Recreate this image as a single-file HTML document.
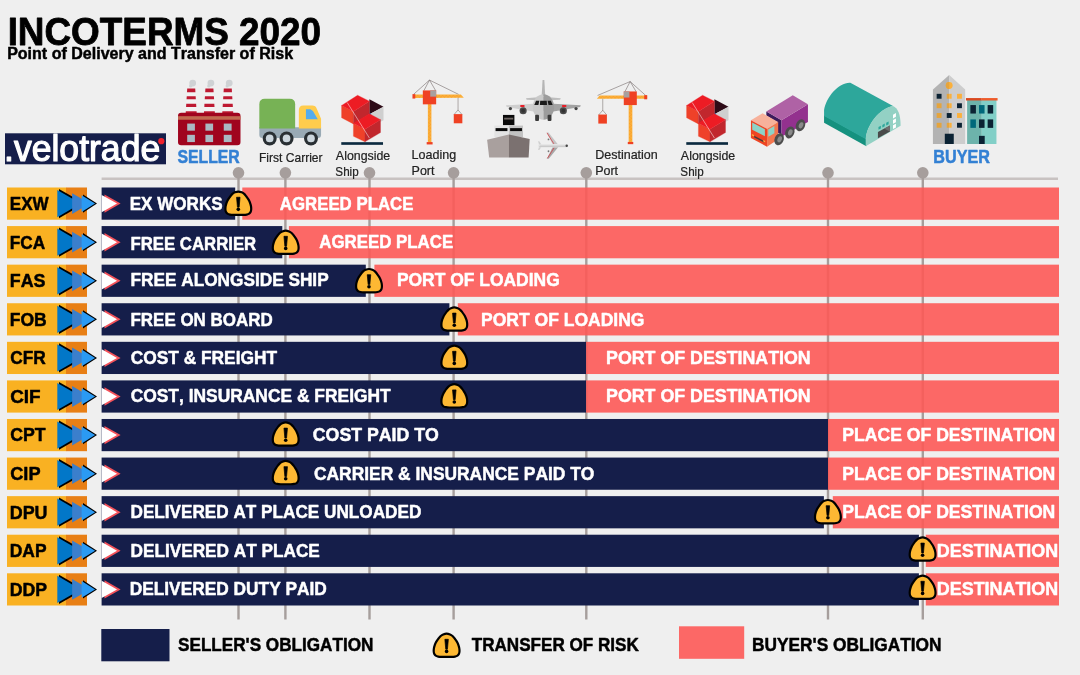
<!DOCTYPE html>
<html><head><meta charset="utf-8"><title>Incoterms 2020</title>
<style>
html,body{margin:0;padding:0;background:#EFEFEF;overflow:hidden;}
svg{display:block;font-family:"Liberation Sans",sans-serif;font-kerning:none;}
text{font-kerning:none;}
</style></head><body>
<svg width="1080" height="675" viewBox="0 0 1080 675">
<rect width="1080" height="675" fill="#EFEFEF"/>
<text x="7.63" y="44.70" font-size="38.6" font-weight="bold" fill="#000" textLength="313.48" lengthAdjust="spacingAndGlyphs" stroke="#000" stroke-width="0.8" stroke-linejoin="round" >INCOTERMS 2020</text>
<text x="7.15" y="59.20" font-size="15.8" font-weight="bold" fill="#000" textLength="285.91" lengthAdjust="spacingAndGlyphs" stroke="#000" stroke-width="0.45" stroke-linejoin="round" >Point of Delivery and Transfer of Risk</text>
<rect x="5" y="133.3" width="161" height="31" fill="#151E4A"/>
<text x="4.05" y="161.20" font-size="36.5" font-weight="normal" fill="#fff" textLength="156.13" lengthAdjust="spacingAndGlyphs" stroke="#fff" stroke-width="1.2" stroke-linejoin="round" >.velotrade</text>
<circle cx="161.3" cy="141.2" r="3.1" fill="#F0212B"/>
<rect x="101.6" y="177.5" width="956.4" height="2.5" fill="#C8C2C1"/>
<rect x="237.3" y="173" width="2.4" height="446.5" fill="#A69E9C"/>
<circle cx="238.5" cy="172.8" r="5.8" fill="#A69E9C"/>
<rect x="284.2" y="173" width="2.4" height="446.5" fill="#A69E9C"/>
<circle cx="285.4" cy="172.8" r="5.8" fill="#A69E9C"/>
<rect x="368.3" y="173" width="2.4" height="446.5" fill="#A69E9C"/>
<circle cx="369.5" cy="172.8" r="5.8" fill="#A69E9C"/>
<rect x="452.4" y="173" width="2.4" height="446.5" fill="#A69E9C"/>
<circle cx="453.6" cy="172.8" r="5.8" fill="#A69E9C"/>
<rect x="585.1" y="173" width="2.4" height="446.5" fill="#A69E9C"/>
<circle cx="586.3" cy="172.8" r="5.8" fill="#A69E9C"/>
<rect x="826.8" y="173" width="2.4" height="446.5" fill="#A69E9C"/>
<circle cx="828.0" cy="172.8" r="5.8" fill="#A69E9C"/>
<rect x="921.6" y="173" width="2.4" height="446.5" fill="#A69E9C"/>
<circle cx="922.8" cy="172.8" r="5.8" fill="#A69E9C"/>
<rect x="7" y="187.50" width="59.2" height="32.2" fill="#F9B122"/>
<rect x="66" y="187.50" width="21" height="32.2" fill="#E87F15"/>
<path d="M59.0,189.0 L84.5,203.6 L59.0,218.2 Z" fill="#000"/>
<path d="M57.3,190.0 L80.7,203.6 L57.3,217.2 Z" fill="#0277C8"/>
<path d="M72.1,193.2 L90.0,203.6 L72.1,214.0 Z" fill="#3B7FCC"/>
<path d="M83.0,194.5 L97.0,203.6 L83.0,212.7 Z" fill="#000"/>
<path d="M81.6,195.3 L95.1,203.6 L81.6,211.9 Z" fill="#2B9AF3"/>
<text x="9.81" y="210.00" font-size="18.9" font-weight="bold" fill="#000" textLength="38.86" lengthAdjust="spacingAndGlyphs" stroke="#000" stroke-width="0.5" stroke-linejoin="round" >EXW</text>
<rect x="101.6" y="187.50" width="133.6" height="32.2" fill="#151E4A"/>
<rect x="242.3" y="187.50" width="816.7" height="32.2" fill="#FD5957" fill-opacity="0.9"/>
<path d="M104.5,194.4 L120.6,203.6 L104.5,212.8 Z" fill="#F4525A"/>
<path d="M101.7,194.9 L117.0,203.6 L101.7,212.3 Z" fill="#fff"/>
<text x="129.71" y="209.90" font-size="18.9" font-weight="bold" fill="#fff" textLength="92.91" lengthAdjust="spacingAndGlyphs" stroke="#fff" stroke-width="0.5" stroke-linejoin="round" >EX WORKS</text>
<text x="279.83" y="209.90" font-size="18.9" font-weight="bold" fill="#fff" textLength="133.58" lengthAdjust="spacingAndGlyphs" stroke="#fff" stroke-width="0.5" stroke-linejoin="round" >AGREED PLACE</text>
<g transform="translate(238.30 203.25)"><path d="M0.00,-11.70 C1.13,-11.70 2.42,-11.30 3.40,-10.90 C4.38,-10.50 5.15,-9.95 5.90,-9.30 C6.65,-8.65 7.28,-7.78 7.90,-7.00 C8.52,-6.22 9.08,-5.40 9.60,-4.60 C10.12,-3.80 10.60,-3.02 11.00,-2.20 C11.40,-1.38 11.72,-0.57 12.00,0.30 C12.28,1.17 12.55,2.05 12.70,3.00 C12.85,3.95 12.95,5.08 12.90,6.00 C12.85,6.92 12.73,7.77 12.40,8.50 C12.07,9.23 11.57,9.93 10.90,10.40 C10.23,10.87 9.38,11.10 8.40,11.30 C7.42,11.50 6.40,11.55 5.00,11.60 C3.60,11.65 1.67,11.60 0.00,11.60 C-1.67,11.60 -3.60,11.65 -5.00,11.60 C-6.40,11.55 -7.42,11.50 -8.40,11.30 C-9.38,11.10 -10.23,10.87 -10.90,10.40 C-11.57,9.93 -12.07,9.23 -12.40,8.50 C-12.73,7.77 -12.85,6.92 -12.90,6.00 C-12.95,5.08 -12.85,3.95 -12.70,3.00 C-12.55,2.05 -12.28,1.17 -12.00,0.30 C-11.72,-0.57 -11.40,-1.38 -11.00,-2.20 C-10.60,-3.02 -10.12,-3.80 -9.60,-4.60 C-9.08,-5.40 -8.52,-6.22 -7.90,-7.00 C-7.28,-7.78 -6.65,-8.65 -5.90,-9.30 C-5.15,-9.95 -4.38,-10.50 -3.40,-10.90 C-2.42,-11.30 -1.13,-11.70 0.00,-11.70 Z" fill="#FDB833" stroke="#000" stroke-width="2.2" stroke-linejoin="round"/>
<path d="M-1.75,-6 L1.75,-6 L0.85,3.9 L-0.85,3.9 Z" fill="#000" stroke="#000" stroke-width="0.7" stroke-linejoin="round"/>
<circle cx="0" cy="6.1" r="1.8" fill="#000"/>
</g>
<rect x="7" y="226.08" width="59.2" height="32.2" fill="#F9B122"/>
<rect x="66" y="226.08" width="21" height="32.2" fill="#E87F15"/>
<path d="M59.0,227.6 L84.5,242.2 L59.0,256.8 Z" fill="#000"/>
<path d="M57.3,228.6 L80.7,242.2 L57.3,255.8 Z" fill="#0277C8"/>
<path d="M72.1,231.8 L90.0,242.2 L72.1,252.6 Z" fill="#3B7FCC"/>
<path d="M83.0,233.1 L97.0,242.2 L83.0,251.3 Z" fill="#000"/>
<path d="M81.6,233.9 L95.1,242.2 L81.6,250.5 Z" fill="#2B9AF3"/>
<text x="9.80" y="248.58" font-size="18.9" font-weight="bold" fill="#000" textLength="35.41" lengthAdjust="spacingAndGlyphs" stroke="#000" stroke-width="0.5" stroke-linejoin="round" >FCA</text>
<rect x="101.6" y="226.08" width="180.7" height="32.2" fill="#151E4A"/>
<rect x="288.9" y="226.08" width="770.1" height="32.2" fill="#FD5957" fill-opacity="0.9"/>
<path d="M104.5,233.0 L120.6,242.2 L104.5,251.4 Z" fill="#F4525A"/>
<path d="M101.7,233.5 L117.0,242.2 L101.7,250.9 Z" fill="#fff"/>
<text x="130.53" y="250.28" font-size="18.9" font-weight="bold" fill="#fff" textLength="125.66" lengthAdjust="spacingAndGlyphs" stroke="#fff" stroke-width="0.5" stroke-linejoin="round" >FREE CARRIER</text>
<text x="319.23" y="248.48" font-size="18.9" font-weight="bold" fill="#fff" textLength="133.98" lengthAdjust="spacingAndGlyphs" stroke="#fff" stroke-width="0.5" stroke-linejoin="round" >AGREED PLACE</text>
<g transform="translate(285.70 242.30)"><path d="M0.00,-11.70 C1.13,-11.70 2.42,-11.30 3.40,-10.90 C4.38,-10.50 5.15,-9.95 5.90,-9.30 C6.65,-8.65 7.28,-7.78 7.90,-7.00 C8.52,-6.22 9.08,-5.40 9.60,-4.60 C10.12,-3.80 10.60,-3.02 11.00,-2.20 C11.40,-1.38 11.72,-0.57 12.00,0.30 C12.28,1.17 12.55,2.05 12.70,3.00 C12.85,3.95 12.95,5.08 12.90,6.00 C12.85,6.92 12.73,7.77 12.40,8.50 C12.07,9.23 11.57,9.93 10.90,10.40 C10.23,10.87 9.38,11.10 8.40,11.30 C7.42,11.50 6.40,11.55 5.00,11.60 C3.60,11.65 1.67,11.60 0.00,11.60 C-1.67,11.60 -3.60,11.65 -5.00,11.60 C-6.40,11.55 -7.42,11.50 -8.40,11.30 C-9.38,11.10 -10.23,10.87 -10.90,10.40 C-11.57,9.93 -12.07,9.23 -12.40,8.50 C-12.73,7.77 -12.85,6.92 -12.90,6.00 C-12.95,5.08 -12.85,3.95 -12.70,3.00 C-12.55,2.05 -12.28,1.17 -12.00,0.30 C-11.72,-0.57 -11.40,-1.38 -11.00,-2.20 C-10.60,-3.02 -10.12,-3.80 -9.60,-4.60 C-9.08,-5.40 -8.52,-6.22 -7.90,-7.00 C-7.28,-7.78 -6.65,-8.65 -5.90,-9.30 C-5.15,-9.95 -4.38,-10.50 -3.40,-10.90 C-2.42,-11.30 -1.13,-11.70 0.00,-11.70 Z" fill="#FDB833" stroke="#000" stroke-width="2.2" stroke-linejoin="round"/>
<path d="M-1.75,-6 L1.75,-6 L0.85,3.9 L-0.85,3.9 Z" fill="#000" stroke="#000" stroke-width="0.7" stroke-linejoin="round"/>
<circle cx="0" cy="6.1" r="1.8" fill="#000"/>
</g>
<rect x="7" y="264.66" width="59.2" height="32.2" fill="#F9B122"/>
<rect x="66" y="264.66" width="21" height="32.2" fill="#E87F15"/>
<path d="M59.0,266.2 L84.5,280.8 L59.0,295.4 Z" fill="#000"/>
<path d="M57.3,267.2 L80.7,280.8 L57.3,294.4 Z" fill="#0277C8"/>
<path d="M72.1,270.4 L90.0,280.8 L72.1,291.2 Z" fill="#3B7FCC"/>
<path d="M83.0,271.7 L97.0,280.8 L83.0,289.9 Z" fill="#000"/>
<path d="M81.6,272.5 L95.1,280.8 L81.6,289.1 Z" fill="#2B9AF3"/>
<text x="9.76" y="287.16" font-size="18.9" font-weight="bold" fill="#000" textLength="35.69" lengthAdjust="spacingAndGlyphs" stroke="#000" stroke-width="0.5" stroke-linejoin="round" >FAS</text>
<rect x="101.6" y="264.66" width="264.2" height="32.2" fill="#151E4A"/>
<rect x="374.4" y="264.66" width="684.6" height="32.2" fill="#FD5957" fill-opacity="0.9"/>
<path d="M104.5,271.6 L120.6,280.8 L104.5,290.0 Z" fill="#F4525A"/>
<path d="M101.7,272.1 L117.0,280.8 L101.7,289.5 Z" fill="#fff"/>
<text x="130.50" y="286.46" font-size="18.9" font-weight="bold" fill="#fff" textLength="198.14" lengthAdjust="spacingAndGlyphs" stroke="#fff" stroke-width="0.5" stroke-linejoin="round" >FREE ALONGSIDE SHIP</text>
<text x="396.88" y="286.46" font-size="18.9" font-weight="bold" fill="#fff" textLength="162.85" lengthAdjust="spacingAndGlyphs" stroke="#fff" stroke-width="0.5" stroke-linejoin="round" >PORT OF LOADING</text>
<g transform="translate(369.00 280.70)"><path d="M0.00,-11.70 C1.13,-11.70 2.42,-11.30 3.40,-10.90 C4.38,-10.50 5.15,-9.95 5.90,-9.30 C6.65,-8.65 7.28,-7.78 7.90,-7.00 C8.52,-6.22 9.08,-5.40 9.60,-4.60 C10.12,-3.80 10.60,-3.02 11.00,-2.20 C11.40,-1.38 11.72,-0.57 12.00,0.30 C12.28,1.17 12.55,2.05 12.70,3.00 C12.85,3.95 12.95,5.08 12.90,6.00 C12.85,6.92 12.73,7.77 12.40,8.50 C12.07,9.23 11.57,9.93 10.90,10.40 C10.23,10.87 9.38,11.10 8.40,11.30 C7.42,11.50 6.40,11.55 5.00,11.60 C3.60,11.65 1.67,11.60 0.00,11.60 C-1.67,11.60 -3.60,11.65 -5.00,11.60 C-6.40,11.55 -7.42,11.50 -8.40,11.30 C-9.38,11.10 -10.23,10.87 -10.90,10.40 C-11.57,9.93 -12.07,9.23 -12.40,8.50 C-12.73,7.77 -12.85,6.92 -12.90,6.00 C-12.95,5.08 -12.85,3.95 -12.70,3.00 C-12.55,2.05 -12.28,1.17 -12.00,0.30 C-11.72,-0.57 -11.40,-1.38 -11.00,-2.20 C-10.60,-3.02 -10.12,-3.80 -9.60,-4.60 C-9.08,-5.40 -8.52,-6.22 -7.90,-7.00 C-7.28,-7.78 -6.65,-8.65 -5.90,-9.30 C-5.15,-9.95 -4.38,-10.50 -3.40,-10.90 C-2.42,-11.30 -1.13,-11.70 0.00,-11.70 Z" fill="#FDB833" stroke="#000" stroke-width="2.2" stroke-linejoin="round"/>
<path d="M-1.75,-6 L1.75,-6 L0.85,3.9 L-0.85,3.9 Z" fill="#000" stroke="#000" stroke-width="0.7" stroke-linejoin="round"/>
<circle cx="0" cy="6.1" r="1.8" fill="#000"/>
</g>
<rect x="7" y="303.24" width="59.2" height="32.2" fill="#F9B122"/>
<rect x="66" y="303.24" width="21" height="32.2" fill="#E87F15"/>
<path d="M59.0,304.7 L84.5,319.3 L59.0,333.9 Z" fill="#000"/>
<path d="M57.3,305.7 L80.7,319.3 L57.3,332.9 Z" fill="#0277C8"/>
<path d="M72.1,308.9 L90.0,319.3 L72.1,329.7 Z" fill="#3B7FCC"/>
<path d="M83.0,310.2 L97.0,319.3 L83.0,328.4 Z" fill="#000"/>
<path d="M81.6,311.0 L95.1,319.3 L81.6,327.6 Z" fill="#2B9AF3"/>
<text x="9.78" y="325.74" font-size="18.9" font-weight="bold" fill="#000" textLength="36.97" lengthAdjust="spacingAndGlyphs" stroke="#000" stroke-width="0.5" stroke-linejoin="round" >FOB</text>
<rect x="101.6" y="303.24" width="347.8" height="32.2" fill="#151E4A"/>
<rect x="457.8" y="303.24" width="601.2" height="32.2" fill="#FD5957" fill-opacity="0.9"/>
<path d="M104.5,310.1 L120.6,319.3 L104.5,328.5 Z" fill="#F4525A"/>
<path d="M101.7,310.6 L117.0,319.3 L101.7,328.0 Z" fill="#fff"/>
<text x="130.52" y="325.64" font-size="18.9" font-weight="bold" fill="#fff" textLength="142.14" lengthAdjust="spacingAndGlyphs" stroke="#fff" stroke-width="0.5" stroke-linejoin="round" >FREE ON BOARD</text>
<text x="481.08" y="325.64" font-size="18.9" font-weight="bold" fill="#fff" textLength="163.36" lengthAdjust="spacingAndGlyphs" stroke="#fff" stroke-width="0.5" stroke-linejoin="round" >PORT OF LOADING</text>
<g transform="translate(454.30 319.10)"><path d="M0.00,-11.70 C1.13,-11.70 2.42,-11.30 3.40,-10.90 C4.38,-10.50 5.15,-9.95 5.90,-9.30 C6.65,-8.65 7.28,-7.78 7.90,-7.00 C8.52,-6.22 9.08,-5.40 9.60,-4.60 C10.12,-3.80 10.60,-3.02 11.00,-2.20 C11.40,-1.38 11.72,-0.57 12.00,0.30 C12.28,1.17 12.55,2.05 12.70,3.00 C12.85,3.95 12.95,5.08 12.90,6.00 C12.85,6.92 12.73,7.77 12.40,8.50 C12.07,9.23 11.57,9.93 10.90,10.40 C10.23,10.87 9.38,11.10 8.40,11.30 C7.42,11.50 6.40,11.55 5.00,11.60 C3.60,11.65 1.67,11.60 0.00,11.60 C-1.67,11.60 -3.60,11.65 -5.00,11.60 C-6.40,11.55 -7.42,11.50 -8.40,11.30 C-9.38,11.10 -10.23,10.87 -10.90,10.40 C-11.57,9.93 -12.07,9.23 -12.40,8.50 C-12.73,7.77 -12.85,6.92 -12.90,6.00 C-12.95,5.08 -12.85,3.95 -12.70,3.00 C-12.55,2.05 -12.28,1.17 -12.00,0.30 C-11.72,-0.57 -11.40,-1.38 -11.00,-2.20 C-10.60,-3.02 -10.12,-3.80 -9.60,-4.60 C-9.08,-5.40 -8.52,-6.22 -7.90,-7.00 C-7.28,-7.78 -6.65,-8.65 -5.90,-9.30 C-5.15,-9.95 -4.38,-10.50 -3.40,-10.90 C-2.42,-11.30 -1.13,-11.70 0.00,-11.70 Z" fill="#FDB833" stroke="#000" stroke-width="2.2" stroke-linejoin="round"/>
<path d="M-1.75,-6 L1.75,-6 L0.85,3.9 L-0.85,3.9 Z" fill="#000" stroke="#000" stroke-width="0.7" stroke-linejoin="round"/>
<circle cx="0" cy="6.1" r="1.8" fill="#000"/>
</g>
<rect x="7" y="341.82" width="59.2" height="32.2" fill="#F9B122"/>
<rect x="66" y="341.82" width="21" height="32.2" fill="#E87F15"/>
<path d="M59.0,343.3 L84.5,357.9 L59.0,372.5 Z" fill="#000"/>
<path d="M57.3,344.3 L80.7,357.9 L57.3,371.5 Z" fill="#0277C8"/>
<path d="M72.1,347.5 L90.0,357.9 L72.1,368.3 Z" fill="#3B7FCC"/>
<path d="M83.0,348.8 L97.0,357.9 L83.0,367.0 Z" fill="#000"/>
<path d="M81.6,349.6 L95.1,357.9 L81.6,366.2 Z" fill="#2B9AF3"/>
<text x="10.24" y="364.32" font-size="18.9" font-weight="bold" fill="#000" textLength="35.56" lengthAdjust="spacingAndGlyphs" stroke="#000" stroke-width="0.5" stroke-linejoin="round" >CFR</text>
<rect x="101.6" y="341.82" width="484.5" height="32.2" fill="#151E4A"/>
<rect x="586.1" y="341.82" width="472.9" height="32.2" fill="#FD5957" fill-opacity="0.9"/>
<path d="M104.5,348.7 L120.6,357.9 L104.5,367.1 Z" fill="#F4525A"/>
<path d="M101.7,349.2 L117.0,357.9 L101.7,366.6 Z" fill="#fff"/>
<text x="130.64" y="363.92" font-size="18.9" font-weight="bold" fill="#fff" textLength="146.50" lengthAdjust="spacingAndGlyphs" stroke="#fff" stroke-width="0.5" stroke-linejoin="round" >COST &amp; FREIGHT</text>
<text x="606.06" y="363.92" font-size="18.9" font-weight="bold" fill="#fff" textLength="204.59" lengthAdjust="spacingAndGlyphs" stroke="#fff" stroke-width="0.5" stroke-linejoin="round" >PORT OF DESTINATION</text>
<g transform="translate(454.30 357.30)"><path d="M0.00,-11.70 C1.13,-11.70 2.42,-11.30 3.40,-10.90 C4.38,-10.50 5.15,-9.95 5.90,-9.30 C6.65,-8.65 7.28,-7.78 7.90,-7.00 C8.52,-6.22 9.08,-5.40 9.60,-4.60 C10.12,-3.80 10.60,-3.02 11.00,-2.20 C11.40,-1.38 11.72,-0.57 12.00,0.30 C12.28,1.17 12.55,2.05 12.70,3.00 C12.85,3.95 12.95,5.08 12.90,6.00 C12.85,6.92 12.73,7.77 12.40,8.50 C12.07,9.23 11.57,9.93 10.90,10.40 C10.23,10.87 9.38,11.10 8.40,11.30 C7.42,11.50 6.40,11.55 5.00,11.60 C3.60,11.65 1.67,11.60 0.00,11.60 C-1.67,11.60 -3.60,11.65 -5.00,11.60 C-6.40,11.55 -7.42,11.50 -8.40,11.30 C-9.38,11.10 -10.23,10.87 -10.90,10.40 C-11.57,9.93 -12.07,9.23 -12.40,8.50 C-12.73,7.77 -12.85,6.92 -12.90,6.00 C-12.95,5.08 -12.85,3.95 -12.70,3.00 C-12.55,2.05 -12.28,1.17 -12.00,0.30 C-11.72,-0.57 -11.40,-1.38 -11.00,-2.20 C-10.60,-3.02 -10.12,-3.80 -9.60,-4.60 C-9.08,-5.40 -8.52,-6.22 -7.90,-7.00 C-7.28,-7.78 -6.65,-8.65 -5.90,-9.30 C-5.15,-9.95 -4.38,-10.50 -3.40,-10.90 C-2.42,-11.30 -1.13,-11.70 0.00,-11.70 Z" fill="#FDB833" stroke="#000" stroke-width="2.2" stroke-linejoin="round"/>
<path d="M-1.75,-6 L1.75,-6 L0.85,3.9 L-0.85,3.9 Z" fill="#000" stroke="#000" stroke-width="0.7" stroke-linejoin="round"/>
<circle cx="0" cy="6.1" r="1.8" fill="#000"/>
</g>
<rect x="7" y="380.40" width="59.2" height="32.2" fill="#F9B122"/>
<rect x="66" y="380.40" width="21" height="32.2" fill="#E87F15"/>
<path d="M59.0,381.9 L84.5,396.5 L59.0,411.1 Z" fill="#000"/>
<path d="M57.3,382.9 L80.7,396.5 L57.3,410.1 Z" fill="#0277C8"/>
<path d="M72.1,386.1 L90.0,396.5 L72.1,406.9 Z" fill="#3B7FCC"/>
<path d="M83.0,387.4 L97.0,396.5 L83.0,405.6 Z" fill="#000"/>
<path d="M81.6,388.2 L95.1,396.5 L81.6,404.8 Z" fill="#2B9AF3"/>
<text x="10.17" y="402.90" font-size="18.9" font-weight="bold" fill="#000" textLength="30.47" lengthAdjust="spacingAndGlyphs" stroke="#000" stroke-width="0.5" stroke-linejoin="round" >CIF</text>
<rect x="101.6" y="380.40" width="484.5" height="32.2" fill="#151E4A"/>
<rect x="586.1" y="380.40" width="472.9" height="32.2" fill="#FD5957" fill-opacity="0.9"/>
<path d="M104.5,387.3 L120.6,396.5 L104.5,405.7 Z" fill="#F4525A"/>
<path d="M101.7,387.8 L117.0,396.5 L101.7,405.2 Z" fill="#fff"/>
<text x="130.64" y="402.20" font-size="18.9" font-weight="bold" fill="#fff" textLength="260.10" lengthAdjust="spacingAndGlyphs" stroke="#fff" stroke-width="0.5" stroke-linejoin="round" >COST, INSURANCE &amp; FREIGHT</text>
<text x="606.06" y="402.20" font-size="18.9" font-weight="bold" fill="#fff" textLength="204.59" lengthAdjust="spacingAndGlyphs" stroke="#fff" stroke-width="0.5" stroke-linejoin="round" >PORT OF DESTINATION</text>
<g transform="translate(454.30 395.90)"><path d="M0.00,-11.70 C1.13,-11.70 2.42,-11.30 3.40,-10.90 C4.38,-10.50 5.15,-9.95 5.90,-9.30 C6.65,-8.65 7.28,-7.78 7.90,-7.00 C8.52,-6.22 9.08,-5.40 9.60,-4.60 C10.12,-3.80 10.60,-3.02 11.00,-2.20 C11.40,-1.38 11.72,-0.57 12.00,0.30 C12.28,1.17 12.55,2.05 12.70,3.00 C12.85,3.95 12.95,5.08 12.90,6.00 C12.85,6.92 12.73,7.77 12.40,8.50 C12.07,9.23 11.57,9.93 10.90,10.40 C10.23,10.87 9.38,11.10 8.40,11.30 C7.42,11.50 6.40,11.55 5.00,11.60 C3.60,11.65 1.67,11.60 0.00,11.60 C-1.67,11.60 -3.60,11.65 -5.00,11.60 C-6.40,11.55 -7.42,11.50 -8.40,11.30 C-9.38,11.10 -10.23,10.87 -10.90,10.40 C-11.57,9.93 -12.07,9.23 -12.40,8.50 C-12.73,7.77 -12.85,6.92 -12.90,6.00 C-12.95,5.08 -12.85,3.95 -12.70,3.00 C-12.55,2.05 -12.28,1.17 -12.00,0.30 C-11.72,-0.57 -11.40,-1.38 -11.00,-2.20 C-10.60,-3.02 -10.12,-3.80 -9.60,-4.60 C-9.08,-5.40 -8.52,-6.22 -7.90,-7.00 C-7.28,-7.78 -6.65,-8.65 -5.90,-9.30 C-5.15,-9.95 -4.38,-10.50 -3.40,-10.90 C-2.42,-11.30 -1.13,-11.70 0.00,-11.70 Z" fill="#FDB833" stroke="#000" stroke-width="2.2" stroke-linejoin="round"/>
<path d="M-1.75,-6 L1.75,-6 L0.85,3.9 L-0.85,3.9 Z" fill="#000" stroke="#000" stroke-width="0.7" stroke-linejoin="round"/>
<circle cx="0" cy="6.1" r="1.8" fill="#000"/>
</g>
<rect x="7" y="418.98" width="59.2" height="32.2" fill="#F9B122"/>
<rect x="66" y="418.98" width="21" height="32.2" fill="#E87F15"/>
<path d="M59.0,420.5 L84.5,435.1 L59.0,449.7 Z" fill="#000"/>
<path d="M57.3,421.5 L80.7,435.1 L57.3,448.7 Z" fill="#0277C8"/>
<path d="M72.1,424.7 L90.0,435.1 L72.1,445.5 Z" fill="#3B7FCC"/>
<path d="M83.0,426.0 L97.0,435.1 L83.0,444.2 Z" fill="#000"/>
<path d="M81.6,426.8 L95.1,435.1 L81.6,443.4 Z" fill="#2B9AF3"/>
<text x="10.22" y="441.48" font-size="18.9" font-weight="bold" fill="#000" textLength="35.42" lengthAdjust="spacingAndGlyphs" stroke="#000" stroke-width="0.5" stroke-linejoin="round" >CPT</text>
<rect x="101.6" y="418.98" width="726.4" height="32.2" fill="#151E4A"/>
<rect x="828" y="418.98" width="231.0" height="32.2" fill="#FD5957" fill-opacity="0.9"/>
<path d="M104.5,425.9 L120.6,435.1 L104.5,444.3 Z" fill="#F4525A"/>
<path d="M101.7,426.4 L117.0,435.1 L101.7,443.8 Z" fill="#fff"/>
<text x="312.82" y="441.08" font-size="18.9" font-weight="bold" fill="#fff" textLength="125.97" lengthAdjust="spacingAndGlyphs" stroke="#fff" stroke-width="0.5" stroke-linejoin="round" >COST PAID TO</text>
<text x="842.37" y="441.08" font-size="18.9" font-weight="bold" fill="#fff" textLength="212.96" lengthAdjust="spacingAndGlyphs" stroke="#fff" stroke-width="0.5" stroke-linejoin="round" >PLACE OF DESTINATION</text>
<g transform="translate(285.70 434.10)"><path d="M0.00,-11.70 C1.13,-11.70 2.42,-11.30 3.40,-10.90 C4.38,-10.50 5.15,-9.95 5.90,-9.30 C6.65,-8.65 7.28,-7.78 7.90,-7.00 C8.52,-6.22 9.08,-5.40 9.60,-4.60 C10.12,-3.80 10.60,-3.02 11.00,-2.20 C11.40,-1.38 11.72,-0.57 12.00,0.30 C12.28,1.17 12.55,2.05 12.70,3.00 C12.85,3.95 12.95,5.08 12.90,6.00 C12.85,6.92 12.73,7.77 12.40,8.50 C12.07,9.23 11.57,9.93 10.90,10.40 C10.23,10.87 9.38,11.10 8.40,11.30 C7.42,11.50 6.40,11.55 5.00,11.60 C3.60,11.65 1.67,11.60 0.00,11.60 C-1.67,11.60 -3.60,11.65 -5.00,11.60 C-6.40,11.55 -7.42,11.50 -8.40,11.30 C-9.38,11.10 -10.23,10.87 -10.90,10.40 C-11.57,9.93 -12.07,9.23 -12.40,8.50 C-12.73,7.77 -12.85,6.92 -12.90,6.00 C-12.95,5.08 -12.85,3.95 -12.70,3.00 C-12.55,2.05 -12.28,1.17 -12.00,0.30 C-11.72,-0.57 -11.40,-1.38 -11.00,-2.20 C-10.60,-3.02 -10.12,-3.80 -9.60,-4.60 C-9.08,-5.40 -8.52,-6.22 -7.90,-7.00 C-7.28,-7.78 -6.65,-8.65 -5.90,-9.30 C-5.15,-9.95 -4.38,-10.50 -3.40,-10.90 C-2.42,-11.30 -1.13,-11.70 0.00,-11.70 Z" fill="#FDB833" stroke="#000" stroke-width="2.2" stroke-linejoin="round"/>
<path d="M-1.75,-6 L1.75,-6 L0.85,3.9 L-0.85,3.9 Z" fill="#000" stroke="#000" stroke-width="0.7" stroke-linejoin="round"/>
<circle cx="0" cy="6.1" r="1.8" fill="#000"/>
</g>
<rect x="7" y="457.56" width="59.2" height="32.2" fill="#F9B122"/>
<rect x="66" y="457.56" width="21" height="32.2" fill="#E87F15"/>
<path d="M59.0,459.1 L84.5,473.7 L59.0,488.3 Z" fill="#000"/>
<path d="M57.3,460.1 L80.7,473.7 L57.3,487.3 Z" fill="#0277C8"/>
<path d="M72.1,463.3 L90.0,473.7 L72.1,484.1 Z" fill="#3B7FCC"/>
<path d="M83.0,464.6 L97.0,473.7 L83.0,482.8 Z" fill="#000"/>
<path d="M81.6,465.4 L95.1,473.7 L81.6,482.0 Z" fill="#2B9AF3"/>
<text x="10.20" y="480.06" font-size="18.9" font-weight="bold" fill="#000" textLength="30.37" lengthAdjust="spacingAndGlyphs" stroke="#000" stroke-width="0.5" stroke-linejoin="round" >CIP</text>
<rect x="101.6" y="457.56" width="726.4" height="32.2" fill="#151E4A"/>
<rect x="828" y="457.56" width="231.0" height="32.2" fill="#FD5957" fill-opacity="0.9"/>
<path d="M104.5,464.5 L120.6,473.7 L104.5,482.9 Z" fill="#F4525A"/>
<path d="M101.7,465.0 L117.0,473.7 L101.7,482.4 Z" fill="#fff"/>
<text x="313.94" y="479.66" font-size="18.9" font-weight="bold" fill="#fff" textLength="280.44" lengthAdjust="spacingAndGlyphs" stroke="#fff" stroke-width="0.5" stroke-linejoin="round" >CARRIER &amp; INSURANCE PAID TO</text>
<text x="842.37" y="480.26" font-size="18.9" font-weight="bold" fill="#fff" textLength="212.96" lengthAdjust="spacingAndGlyphs" stroke="#fff" stroke-width="0.5" stroke-linejoin="round" >PLACE OF DESTINATION</text>
<g transform="translate(285.70 472.65)"><path d="M0.00,-11.70 C1.13,-11.70 2.42,-11.30 3.40,-10.90 C4.38,-10.50 5.15,-9.95 5.90,-9.30 C6.65,-8.65 7.28,-7.78 7.90,-7.00 C8.52,-6.22 9.08,-5.40 9.60,-4.60 C10.12,-3.80 10.60,-3.02 11.00,-2.20 C11.40,-1.38 11.72,-0.57 12.00,0.30 C12.28,1.17 12.55,2.05 12.70,3.00 C12.85,3.95 12.95,5.08 12.90,6.00 C12.85,6.92 12.73,7.77 12.40,8.50 C12.07,9.23 11.57,9.93 10.90,10.40 C10.23,10.87 9.38,11.10 8.40,11.30 C7.42,11.50 6.40,11.55 5.00,11.60 C3.60,11.65 1.67,11.60 0.00,11.60 C-1.67,11.60 -3.60,11.65 -5.00,11.60 C-6.40,11.55 -7.42,11.50 -8.40,11.30 C-9.38,11.10 -10.23,10.87 -10.90,10.40 C-11.57,9.93 -12.07,9.23 -12.40,8.50 C-12.73,7.77 -12.85,6.92 -12.90,6.00 C-12.95,5.08 -12.85,3.95 -12.70,3.00 C-12.55,2.05 -12.28,1.17 -12.00,0.30 C-11.72,-0.57 -11.40,-1.38 -11.00,-2.20 C-10.60,-3.02 -10.12,-3.80 -9.60,-4.60 C-9.08,-5.40 -8.52,-6.22 -7.90,-7.00 C-7.28,-7.78 -6.65,-8.65 -5.90,-9.30 C-5.15,-9.95 -4.38,-10.50 -3.40,-10.90 C-2.42,-11.30 -1.13,-11.70 0.00,-11.70 Z" fill="#FDB833" stroke="#000" stroke-width="2.2" stroke-linejoin="round"/>
<path d="M-1.75,-6 L1.75,-6 L0.85,3.9 L-0.85,3.9 Z" fill="#000" stroke="#000" stroke-width="0.7" stroke-linejoin="round"/>
<circle cx="0" cy="6.1" r="1.8" fill="#000"/>
</g>
<rect x="7" y="496.14" width="59.2" height="32.2" fill="#F9B122"/>
<rect x="66" y="496.14" width="21" height="32.2" fill="#E87F15"/>
<path d="M59.0,497.6 L84.5,512.2 L59.0,526.8 Z" fill="#000"/>
<path d="M57.3,498.6 L80.7,512.2 L57.3,525.8 Z" fill="#0277C8"/>
<path d="M72.1,501.8 L90.0,512.2 L72.1,522.6 Z" fill="#3B7FCC"/>
<path d="M83.0,503.1 L97.0,512.2 L83.0,521.3 Z" fill="#000"/>
<path d="M81.6,503.9 L95.1,512.2 L81.6,520.5 Z" fill="#2B9AF3"/>
<text x="9.75" y="518.64" font-size="18.9" font-weight="bold" fill="#000" textLength="37.79" lengthAdjust="spacingAndGlyphs" stroke="#000" stroke-width="0.5" stroke-linejoin="round" >DPU</text>
<rect x="101.6" y="496.14" width="722.3" height="32.2" fill="#151E4A"/>
<rect x="832.8" y="496.14" width="226.2" height="32.2" fill="#FD5957" fill-opacity="0.9"/>
<path d="M104.5,503.0 L120.6,512.2 L104.5,521.4 Z" fill="#F4525A"/>
<path d="M101.7,503.5 L117.0,512.2 L101.7,520.9 Z" fill="#fff"/>
<text x="130.50" y="517.74" font-size="18.9" font-weight="bold" fill="#fff" textLength="290.77" lengthAdjust="spacingAndGlyphs" stroke="#fff" stroke-width="0.5" stroke-linejoin="round" >DELIVERED AT PLACE UNLOADED</text>
<text x="842.37" y="517.74" font-size="18.9" font-weight="bold" fill="#fff" textLength="212.96" lengthAdjust="spacingAndGlyphs" stroke="#fff" stroke-width="0.5" stroke-linejoin="round" >PLACE OF DESTINATION</text>
<g transform="translate(827.90 511.70)"><path d="M0.00,-11.70 C1.13,-11.70 2.42,-11.30 3.40,-10.90 C4.38,-10.50 5.15,-9.95 5.90,-9.30 C6.65,-8.65 7.28,-7.78 7.90,-7.00 C8.52,-6.22 9.08,-5.40 9.60,-4.60 C10.12,-3.80 10.60,-3.02 11.00,-2.20 C11.40,-1.38 11.72,-0.57 12.00,0.30 C12.28,1.17 12.55,2.05 12.70,3.00 C12.85,3.95 12.95,5.08 12.90,6.00 C12.85,6.92 12.73,7.77 12.40,8.50 C12.07,9.23 11.57,9.93 10.90,10.40 C10.23,10.87 9.38,11.10 8.40,11.30 C7.42,11.50 6.40,11.55 5.00,11.60 C3.60,11.65 1.67,11.60 0.00,11.60 C-1.67,11.60 -3.60,11.65 -5.00,11.60 C-6.40,11.55 -7.42,11.50 -8.40,11.30 C-9.38,11.10 -10.23,10.87 -10.90,10.40 C-11.57,9.93 -12.07,9.23 -12.40,8.50 C-12.73,7.77 -12.85,6.92 -12.90,6.00 C-12.95,5.08 -12.85,3.95 -12.70,3.00 C-12.55,2.05 -12.28,1.17 -12.00,0.30 C-11.72,-0.57 -11.40,-1.38 -11.00,-2.20 C-10.60,-3.02 -10.12,-3.80 -9.60,-4.60 C-9.08,-5.40 -8.52,-6.22 -7.90,-7.00 C-7.28,-7.78 -6.65,-8.65 -5.90,-9.30 C-5.15,-9.95 -4.38,-10.50 -3.40,-10.90 C-2.42,-11.30 -1.13,-11.70 0.00,-11.70 Z" fill="#FDB833" stroke="#000" stroke-width="2.2" stroke-linejoin="round"/>
<path d="M-1.75,-6 L1.75,-6 L0.85,3.9 L-0.85,3.9 Z" fill="#000" stroke="#000" stroke-width="0.7" stroke-linejoin="round"/>
<circle cx="0" cy="6.1" r="1.8" fill="#000"/>
</g>
<rect x="7" y="534.72" width="59.2" height="32.2" fill="#F9B122"/>
<rect x="66" y="534.72" width="21" height="32.2" fill="#E87F15"/>
<path d="M59.0,536.2 L84.5,550.8 L59.0,565.4 Z" fill="#000"/>
<path d="M57.3,537.2 L80.7,550.8 L57.3,564.4 Z" fill="#0277C8"/>
<path d="M72.1,540.4 L90.0,550.8 L72.1,561.2 Z" fill="#3B7FCC"/>
<path d="M83.0,541.7 L97.0,550.8 L83.0,559.9 Z" fill="#000"/>
<path d="M81.6,542.5 L95.1,550.8 L81.6,559.1 Z" fill="#2B9AF3"/>
<text x="9.79" y="557.22" font-size="18.9" font-weight="bold" fill="#000" textLength="36.76" lengthAdjust="spacingAndGlyphs" stroke="#000" stroke-width="0.5" stroke-linejoin="round" >DAP</text>
<rect x="101.6" y="534.72" width="817.3" height="32.2" fill="#151E4A"/>
<rect x="925.8" y="534.72" width="133.2" height="32.2" fill="#FD5957" fill-opacity="0.9"/>
<path d="M104.5,541.6 L120.6,550.8 L104.5,560.0 Z" fill="#F4525A"/>
<path d="M101.7,542.1 L117.0,550.8 L101.7,559.5 Z" fill="#fff"/>
<text x="130.50" y="556.62" font-size="18.9" font-weight="bold" fill="#fff" textLength="189.32" lengthAdjust="spacingAndGlyphs" stroke="#fff" stroke-width="0.5" stroke-linejoin="round" >DELIVERED AT PLACE</text>
<text x="936.85" y="557.12" font-size="18.9" font-weight="bold" fill="#fff" textLength="121.30" lengthAdjust="spacingAndGlyphs" stroke="#fff" stroke-width="0.5" stroke-linejoin="round" >DESTINATION</text>
<g transform="translate(922.60 549.10)"><path d="M0.00,-11.70 C1.13,-11.70 2.42,-11.30 3.40,-10.90 C4.38,-10.50 5.15,-9.95 5.90,-9.30 C6.65,-8.65 7.28,-7.78 7.90,-7.00 C8.52,-6.22 9.08,-5.40 9.60,-4.60 C10.12,-3.80 10.60,-3.02 11.00,-2.20 C11.40,-1.38 11.72,-0.57 12.00,0.30 C12.28,1.17 12.55,2.05 12.70,3.00 C12.85,3.95 12.95,5.08 12.90,6.00 C12.85,6.92 12.73,7.77 12.40,8.50 C12.07,9.23 11.57,9.93 10.90,10.40 C10.23,10.87 9.38,11.10 8.40,11.30 C7.42,11.50 6.40,11.55 5.00,11.60 C3.60,11.65 1.67,11.60 0.00,11.60 C-1.67,11.60 -3.60,11.65 -5.00,11.60 C-6.40,11.55 -7.42,11.50 -8.40,11.30 C-9.38,11.10 -10.23,10.87 -10.90,10.40 C-11.57,9.93 -12.07,9.23 -12.40,8.50 C-12.73,7.77 -12.85,6.92 -12.90,6.00 C-12.95,5.08 -12.85,3.95 -12.70,3.00 C-12.55,2.05 -12.28,1.17 -12.00,0.30 C-11.72,-0.57 -11.40,-1.38 -11.00,-2.20 C-10.60,-3.02 -10.12,-3.80 -9.60,-4.60 C-9.08,-5.40 -8.52,-6.22 -7.90,-7.00 C-7.28,-7.78 -6.65,-8.65 -5.90,-9.30 C-5.15,-9.95 -4.38,-10.50 -3.40,-10.90 C-2.42,-11.30 -1.13,-11.70 0.00,-11.70 Z" fill="#FDB833" stroke="#000" stroke-width="2.2" stroke-linejoin="round"/>
<path d="M-1.75,-6 L1.75,-6 L0.85,3.9 L-0.85,3.9 Z" fill="#000" stroke="#000" stroke-width="0.7" stroke-linejoin="round"/>
<circle cx="0" cy="6.1" r="1.8" fill="#000"/>
</g>
<rect x="7" y="573.30" width="59.2" height="32.2" fill="#F9B122"/>
<rect x="66" y="573.30" width="21" height="32.2" fill="#E87F15"/>
<path d="M59.0,574.8 L84.5,589.4 L59.0,604.0 Z" fill="#000"/>
<path d="M57.3,575.8 L80.7,589.4 L57.3,603.0 Z" fill="#0277C8"/>
<path d="M72.1,579.0 L90.0,589.4 L72.1,599.8 Z" fill="#3B7FCC"/>
<path d="M83.0,580.3 L97.0,589.4 L83.0,598.5 Z" fill="#000"/>
<path d="M81.6,581.1 L95.1,589.4 L81.6,597.7 Z" fill="#2B9AF3"/>
<text x="9.77" y="595.80" font-size="18.9" font-weight="bold" fill="#000" textLength="37.28" lengthAdjust="spacingAndGlyphs" stroke="#000" stroke-width="0.5" stroke-linejoin="round" >DDP</text>
<rect x="101.6" y="573.30" width="817.3" height="32.2" fill="#151E4A"/>
<rect x="925.8" y="573.30" width="133.2" height="32.2" fill="#FD5957" fill-opacity="0.9"/>
<path d="M104.5,580.2 L120.6,589.4 L104.5,598.6 Z" fill="#F4525A"/>
<path d="M101.7,580.7 L117.0,589.4 L101.7,598.1 Z" fill="#fff"/>
<text x="129.69" y="594.90" font-size="18.9" font-weight="bold" fill="#fff" textLength="197.19" lengthAdjust="spacingAndGlyphs" stroke="#fff" stroke-width="0.5" stroke-linejoin="round" >DELIVERED DUTY PAID</text>
<text x="936.85" y="595.40" font-size="18.9" font-weight="bold" fill="#fff" textLength="121.30" lengthAdjust="spacingAndGlyphs" stroke="#fff" stroke-width="0.5" stroke-linejoin="round" >DESTINATION</text>
<g transform="translate(922.60 587.30)"><path d="M0.00,-11.70 C1.13,-11.70 2.42,-11.30 3.40,-10.90 C4.38,-10.50 5.15,-9.95 5.90,-9.30 C6.65,-8.65 7.28,-7.78 7.90,-7.00 C8.52,-6.22 9.08,-5.40 9.60,-4.60 C10.12,-3.80 10.60,-3.02 11.00,-2.20 C11.40,-1.38 11.72,-0.57 12.00,0.30 C12.28,1.17 12.55,2.05 12.70,3.00 C12.85,3.95 12.95,5.08 12.90,6.00 C12.85,6.92 12.73,7.77 12.40,8.50 C12.07,9.23 11.57,9.93 10.90,10.40 C10.23,10.87 9.38,11.10 8.40,11.30 C7.42,11.50 6.40,11.55 5.00,11.60 C3.60,11.65 1.67,11.60 0.00,11.60 C-1.67,11.60 -3.60,11.65 -5.00,11.60 C-6.40,11.55 -7.42,11.50 -8.40,11.30 C-9.38,11.10 -10.23,10.87 -10.90,10.40 C-11.57,9.93 -12.07,9.23 -12.40,8.50 C-12.73,7.77 -12.85,6.92 -12.90,6.00 C-12.95,5.08 -12.85,3.95 -12.70,3.00 C-12.55,2.05 -12.28,1.17 -12.00,0.30 C-11.72,-0.57 -11.40,-1.38 -11.00,-2.20 C-10.60,-3.02 -10.12,-3.80 -9.60,-4.60 C-9.08,-5.40 -8.52,-6.22 -7.90,-7.00 C-7.28,-7.78 -6.65,-8.65 -5.90,-9.30 C-5.15,-9.95 -4.38,-10.50 -3.40,-10.90 C-2.42,-11.30 -1.13,-11.70 0.00,-11.70 Z" fill="#FDB833" stroke="#000" stroke-width="2.2" stroke-linejoin="round"/>
<path d="M-1.75,-6 L1.75,-6 L0.85,3.9 L-0.85,3.9 Z" fill="#000" stroke="#000" stroke-width="0.7" stroke-linejoin="round"/>
<circle cx="0" cy="6.1" r="1.8" fill="#000"/>
</g>
<rect x="101.3" y="629" width="68.2" height="32.3" fill="#151E4A"/>
<text x="178.06" y="651.10" font-size="18.9" font-weight="bold" fill="#000" textLength="195.35" lengthAdjust="spacingAndGlyphs" stroke="#000" stroke-width="0.5" stroke-linejoin="round" >SELLER'S OBLIGATION</text>
<g transform="translate(446.60 645.30)"><path d="M0.00,-11.70 C1.13,-11.70 2.42,-11.30 3.40,-10.90 C4.38,-10.50 5.15,-9.95 5.90,-9.30 C6.65,-8.65 7.28,-7.78 7.90,-7.00 C8.52,-6.22 9.08,-5.40 9.60,-4.60 C10.12,-3.80 10.60,-3.02 11.00,-2.20 C11.40,-1.38 11.72,-0.57 12.00,0.30 C12.28,1.17 12.55,2.05 12.70,3.00 C12.85,3.95 12.95,5.08 12.90,6.00 C12.85,6.92 12.73,7.77 12.40,8.50 C12.07,9.23 11.57,9.93 10.90,10.40 C10.23,10.87 9.38,11.10 8.40,11.30 C7.42,11.50 6.40,11.55 5.00,11.60 C3.60,11.65 1.67,11.60 0.00,11.60 C-1.67,11.60 -3.60,11.65 -5.00,11.60 C-6.40,11.55 -7.42,11.50 -8.40,11.30 C-9.38,11.10 -10.23,10.87 -10.90,10.40 C-11.57,9.93 -12.07,9.23 -12.40,8.50 C-12.73,7.77 -12.85,6.92 -12.90,6.00 C-12.95,5.08 -12.85,3.95 -12.70,3.00 C-12.55,2.05 -12.28,1.17 -12.00,0.30 C-11.72,-0.57 -11.40,-1.38 -11.00,-2.20 C-10.60,-3.02 -10.12,-3.80 -9.60,-4.60 C-9.08,-5.40 -8.52,-6.22 -7.90,-7.00 C-7.28,-7.78 -6.65,-8.65 -5.90,-9.30 C-5.15,-9.95 -4.38,-10.50 -3.40,-10.90 C-2.42,-11.30 -1.13,-11.70 0.00,-11.70 Z" fill="#FDB833" stroke="#000" stroke-width="2.2" stroke-linejoin="round"/>
<path d="M-1.75,-6 L1.75,-6 L0.85,3.9 L-0.85,3.9 Z" fill="#000" stroke="#000" stroke-width="0.7" stroke-linejoin="round"/>
<circle cx="0" cy="6.1" r="1.8" fill="#000"/>
</g>
<text x="471.76" y="651.10" font-size="18.9" font-weight="bold" fill="#000" textLength="167.05" lengthAdjust="spacingAndGlyphs" stroke="#000" stroke-width="0.5" stroke-linejoin="round" >TRANSFER OF RISK</text>
<rect x="679" y="626.3" width="65.2" height="32.5" fill="#FC6866"/>
<text x="752.09" y="651.10" font-size="18.9" font-weight="bold" fill="#000" textLength="189.42" lengthAdjust="spacingAndGlyphs" stroke="#000" stroke-width="0.5" stroke-linejoin="round" >BUYER'S OBLIGATION</text>
<text x="177.39" y="163.00" font-size="17.8" font-weight="bold" fill="#3380D4" textLength="62.38" lengthAdjust="spacingAndGlyphs" stroke="#3380D4" stroke-width="0.5" stroke-linejoin="round" >SELLER</text>
<text x="933.37" y="163.40" font-size="17.8" font-weight="bold" fill="#3380D4" textLength="56.61" lengthAdjust="spacingAndGlyphs" stroke="#3380D4" stroke-width="0.5" stroke-linejoin="round" >BUYER</text>
<text x="259.01" y="161.60" font-size="12.2" font-weight="normal" fill="#222" textLength="63.59" lengthAdjust="spacingAndGlyphs" stroke="#222" stroke-width="0.2" stroke-linejoin="round" >First Carrier</text>
<text x="335.88" y="160.00" font-size="12.2" font-weight="normal" fill="#222" textLength="54.37" lengthAdjust="spacingAndGlyphs" stroke="#222" stroke-width="0.2" stroke-linejoin="round" >Alongside</text>
<text x="335.37" y="175.60" font-size="12.2" font-weight="normal" fill="#222" textLength="23.32" lengthAdjust="spacingAndGlyphs" stroke="#222" stroke-width="0.2" stroke-linejoin="round" >Ship</text>
<text x="411.57" y="158.50" font-size="12.2" font-weight="normal" fill="#222" textLength="44.64" lengthAdjust="spacingAndGlyphs" stroke="#222" stroke-width="0.2" stroke-linejoin="round" >Loading</text>
<text x="411.57" y="175.00" font-size="12.2" font-weight="normal" fill="#222" textLength="22.92" lengthAdjust="spacingAndGlyphs" stroke="#222" stroke-width="0.2" stroke-linejoin="round" >Port</text>
<text x="595.17" y="158.50" font-size="12.2" font-weight="normal" fill="#222" textLength="62.64" lengthAdjust="spacingAndGlyphs" stroke="#222" stroke-width="0.2" stroke-linejoin="round" >Destination</text>
<text x="595.17" y="175.00" font-size="12.2" font-weight="normal" fill="#222" textLength="22.92" lengthAdjust="spacingAndGlyphs" stroke="#222" stroke-width="0.2" stroke-linejoin="round" >Port</text>
<text x="680.88" y="160.00" font-size="12.2" font-weight="normal" fill="#222" textLength="54.37" lengthAdjust="spacingAndGlyphs" stroke="#222" stroke-width="0.2" stroke-linejoin="round" >Alongside</text>
<text x="680.37" y="175.60" font-size="12.2" font-weight="normal" fill="#222" textLength="23.32" lengthAdjust="spacingAndGlyphs" stroke="#222" stroke-width="0.2" stroke-linejoin="round" >Ship</text>
<circle cx="192.68" cy="83.03" r="3.40" fill="#CFD2D4"/>
<circle cx="190.61" cy="85.99" r="1.63" fill="#CFD2D4"/>
<circle cx="210.89" cy="83.03" r="3.40" fill="#CFD2D4"/>
<circle cx="208.81" cy="85.99" r="1.63" fill="#CFD2D4"/>
<circle cx="229.24" cy="83.03" r="3.40" fill="#CFD2D4"/>
<circle cx="227.17" cy="85.99" r="1.63" fill="#CFD2D4"/>
<polygon points="187.20,88.50 195.20,88.50 196.68,112.92 185.72,112.92" fill="#F2F2F2" />
<polygon points="187.20,88.50 195.20,88.50 195.42,92.20 186.98,92.20" fill="#BE1931" />
<polygon points="186.73,96.35 195.67,96.35 195.85,99.31 186.55,99.31" fill="#BE1931" />
<polygon points="186.28,103.75 196.12,103.75 196.32,107.00 186.08,107.00" fill="#BE1931" />
<polygon points="185.83,111.15 196.57,111.15 196.69,113.22 185.70,113.22" fill="#BE1931" />
<polygon points="205.41,88.50 213.40,88.50 214.88,112.92 203.93,112.92" fill="#F2F2F2" />
<polygon points="205.41,88.50 213.40,88.50 213.63,92.20 205.18,92.20" fill="#BE1931" />
<polygon points="204.93,96.35 213.88,96.35 214.06,99.31 204.75,99.31" fill="#BE1931" />
<polygon points="204.48,103.75 214.33,103.75 214.52,107.00 204.29,107.00" fill="#BE1931" />
<polygon points="204.04,111.15 214.77,111.15 214.90,113.22 203.91,113.22" fill="#BE1931" />
<polygon points="223.76,88.50 231.76,88.50 233.24,112.92 222.28,112.92" fill="#F2F2F2" />
<polygon points="223.76,88.50 231.76,88.50 231.98,92.20 223.54,92.20" fill="#BE1931" />
<polygon points="223.29,96.35 232.23,96.35 232.41,99.31 223.11,99.31" fill="#BE1931" />
<polygon points="222.84,103.75 232.68,103.75 232.88,107.00 222.64,107.00" fill="#BE1931" />
<polygon points="222.39,111.15 233.13,111.15 233.25,113.22 222.26,113.22" fill="#BE1931" />
<rect x="178.03" y="112.63" width="62.46" height="32.56" fill="#A0041E" rx="3.2" />
<rect x="178.03" y="116.18" width="62.46" height="3.55" fill="#C1694F" rx="0" />
<rect x="187.20" y="123.58" width="7.70" height="7.10" fill="#AAB8C2" rx="0" />
<rect x="187.20" y="134.83" width="7.70" height="7.25" fill="#AAB8C2" rx="0" />
<rect x="205.41" y="123.58" width="7.70" height="7.10" fill="#AAB8C2" rx="0" />
<rect x="205.41" y="134.83" width="7.70" height="7.25" fill="#AAB8C2" rx="0" />
<rect x="223.76" y="123.58" width="7.84" height="7.10" fill="#AAB8C2" rx="0" />
<rect x="223.76" y="134.83" width="7.84" height="7.25" fill="#AAB8C2" rx="0" />
<path d="M259.33,127.37 H321.05 V135.02 Q321.05,138.02 318.05,138.02 H262.33 Q259.33,138.02 259.33,135.02 Z" fill="#99AAB5"/>
<path d="M259.33,128.40 V104.30 Q259.33,98.80 264.83,98.80 H289.65 Q295.15,98.80 295.15,104.30 V128.40 Z" fill="#77B255"/>
<path d="M298.85,128.40 L298.85,110.34 Q298.85,105.46 303.29,105.46 L312.17,105.46 Q315.87,105.46 316.87,108.88 L321.05,118.78 L321.05,128.40 Z" fill="#FFCC4D"/>
<polygon points="305.95,109.16 310.39,109.16 312.91,111.08 317.79,119.22 305.95,119.22" fill="#55ACEE" />
<circle cx="269.69" cy="138.47" r="6.96" fill="#292F33"/>
<circle cx="269.69" cy="138.47" r="3.85" fill="#CCD6DD"/>
<circle cx="286.56" cy="138.47" r="6.96" fill="#292F33"/>
<circle cx="286.56" cy="138.47" r="3.85" fill="#CCD6DD"/>
<circle cx="310.98" cy="138.47" r="6.96" fill="#292F33"/>
<circle cx="310.98" cy="138.47" r="3.85" fill="#CCD6DD"/>
<polygon points="369.40,99.24 383.47,106.64 369.40,114.34" fill="#2D0B17" />
<polygon points="383.47,106.64 383.47,120.26 375.33,124.40 369.40,114.34" fill="#CFCFCF" />
<polygon points="369.40,112.86 371.48,114.04 369.40,115.23" fill="#1565C0" />
<polygon points="341.58,105.46 353.42,111.38 353.42,123.96 341.58,117.74" fill="#EF4129"  stroke="#EF4129" stroke-width="0.3" stroke-linejoin="round"/>
<polygon points="353.42,111.38 369.40,101.17 369.40,114.34 353.42,123.96" fill="#C1272D"  stroke="#C1272D" stroke-width="0.3" stroke-linejoin="round"/>
<polygon points="341.58,105.46 357.56,95.25 369.40,101.17 353.42,111.38" fill="#ED1C24"  stroke="#ED1C24" stroke-width="0.3" stroke-linejoin="round"/>
<polygon points="353.42,123.22 364.96,129.29 364.96,141.87 353.42,136.25" fill="#EF4129"  stroke="#EF4129" stroke-width="0.3" stroke-linejoin="round"/>
<polygon points="364.96,129.29 380.51,119.67 380.51,132.55 364.96,141.87" fill="#C1272D"  stroke="#C1272D" stroke-width="0.3" stroke-linejoin="round"/>
<polygon points="353.42,123.22 369.40,113.75 380.51,119.67 364.96,129.29" fill="#ED1C24"  stroke="#ED1C24" stroke-width="0.3" stroke-linejoin="round"/>
<line x1="347.20" y1="102.50" x2="369.40" y2="138.02" stroke="#FFFFFF" stroke-width="0.5"/>
<rect x="341.28" y="142.17" width="41.74" height="2.66" fill="#0B2A3F" rx="0" />
<polygon points="714.40,99.24 728.47,106.64 714.40,114.34" fill="#2D0B17" />
<polygon points="728.47,106.64 728.47,120.26 720.33,124.40 714.40,114.34" fill="#CFCFCF" />
<polygon points="714.40,112.86 716.48,114.04 714.40,115.23" fill="#1565C0" />
<polygon points="686.58,105.46 698.42,111.38 698.42,123.96 686.58,117.74" fill="#EF4129"  stroke="#EF4129" stroke-width="0.3" stroke-linejoin="round"/>
<polygon points="698.42,111.38 714.40,101.17 714.40,114.34 698.42,123.96" fill="#C1272D"  stroke="#C1272D" stroke-width="0.3" stroke-linejoin="round"/>
<polygon points="686.58,105.46 702.56,95.25 714.40,101.17 698.42,111.38" fill="#ED1C24"  stroke="#ED1C24" stroke-width="0.3" stroke-linejoin="round"/>
<polygon points="698.42,123.22 709.96,129.29 709.96,141.87 698.42,136.25" fill="#EF4129"  stroke="#EF4129" stroke-width="0.3" stroke-linejoin="round"/>
<polygon points="709.96,129.29 725.51,119.67 725.51,132.55 709.96,141.87" fill="#C1272D"  stroke="#C1272D" stroke-width="0.3" stroke-linejoin="round"/>
<polygon points="698.42,123.22 714.40,113.75 725.51,119.67 709.96,129.29" fill="#ED1C24"  stroke="#ED1C24" stroke-width="0.3" stroke-linejoin="round"/>
<line x1="692.20" y1="102.50" x2="714.40" y2="138.02" stroke="#FFFFFF" stroke-width="0.5"/>
<rect x="686.28" y="142.17" width="41.74" height="2.66" fill="#0B2A3F" rx="0" />
<line x1="429.49" y1="80.07" x2="413.50" y2="94.42" stroke="#6b605f" stroke-width="0.55"/>
<line x1="429.49" y1="80.07" x2="423.86" y2="90.72" stroke="#6b605f" stroke-width="0.55"/>
<line x1="429.49" y1="80.07" x2="435.70" y2="90.72" stroke="#6b605f" stroke-width="0.55"/>
<line x1="429.49" y1="80.07" x2="458.65" y2="94.42" stroke="#6b605f" stroke-width="0.55"/>
<polygon points="413.50,94.42 460.87,94.42 463.83,97.83 413.50,98.12" fill="#FBB03B" />
<polyline points="414.24,95.16 416.02,97.53 417.79,95.16 419.57,97.53 421.35,95.16 423.12,97.53 424.90,95.16 426.68,97.53 428.45,95.16 430.23,97.53 432.00,95.16 433.78,97.53 435.56,95.16 437.33,97.53 439.11,95.16 440.89,97.53 442.66,95.16 444.44,97.53 446.21,95.16 447.99,97.53 449.77,95.16 451.54,97.53 453.32,95.16 455.09,97.53 456.87,95.16 458.65,97.53 460.42,95.16" fill="none" stroke="#F7931E" stroke-width="0.4"/>
<rect x="412.47" y="94.13" width="2.81" height="4.44" fill="#EF4123" rx="0" />
<rect x="427.86" y="104.04" width="3.55" height="38.48" fill="#FBB03B" rx="0" />
<polyline points="428.45,104.93 430.82,106.71 428.45,108.48 430.82,110.26 428.45,112.04 430.82,113.81 428.45,115.59 430.82,117.37 428.45,119.14 430.82,120.92 428.45,122.69 430.82,124.47 428.45,126.25 430.82,128.02 428.45,129.80 430.82,131.57 428.45,133.35 430.82,135.13 428.45,136.90 430.82,138.68 428.45,140.46 430.82,142.23" fill="none" stroke="#F7931E" stroke-width="0.4"/>
<rect x="426.68" y="142.08" width="5.92" height="2.37" fill="#EF4123" rx="0" />
<rect x="422.83" y="90.43" width="13.32" height="13.91" fill="#EF4123" rx="0" />
<rect x="430.23" y="90.43" width="5.92" height="6.22" fill="#A8A09F" rx="0" />
<line x1="458.06" y1="97.83" x2="458.06" y2="110.26" stroke="#6b605f" stroke-width="0.5"/>
<line x1="458.06" y1="109.96" x2="454.21" y2="114.40" stroke="#6b605f" stroke-width="0.5"/>
<line x1="458.06" y1="109.96" x2="461.90" y2="114.40" stroke="#6b605f" stroke-width="0.5"/>
<rect x="453.76" y="114.11" width="8.58" height="9.18" fill="#EF4123" rx="0" />
<line x1="630.15" y1="81.55" x2="597.58" y2="95.46" stroke="#6b605f" stroke-width="0.55"/>
<line x1="630.15" y1="81.55" x2="624.96" y2="91.61" stroke="#6b605f" stroke-width="0.55"/>
<line x1="630.15" y1="81.55" x2="636.07" y2="91.61" stroke="#6b605f" stroke-width="0.55"/>
<line x1="630.15" y1="81.55" x2="645.69" y2="95.46" stroke="#6b605f" stroke-width="0.55"/>
<polygon points="599.80,95.46 647.17,95.46 647.17,98.86 596.84,98.86" fill="#FBB03B" />
<polyline points="599.06,96.20 600.84,98.27 602.61,96.20 604.39,98.27 606.17,96.20 607.94,98.27 609.72,96.20 611.49,98.27 613.27,96.20 615.05,98.27 616.82,96.20 618.60,98.27 620.38,96.20 622.15,98.27 623.93,96.20 625.70,98.27 627.48,96.20 629.26,98.27 631.03,96.20 632.81,98.27 634.59,96.20 636.36,98.27 638.14,96.20 639.91,98.27 641.69,96.20 643.47,98.27 645.24,96.20" fill="none" stroke="#F7931E" stroke-width="0.4"/>
<rect x="644.21" y="95.16" width="2.96" height="4.14" fill="#EF4123" rx="0" />
<rect x="628.66" y="104.78" width="3.70" height="37.74" fill="#FBB03B" rx="0" />
<polyline points="629.26,105.82 631.77,107.60 629.26,109.37 631.77,111.15 629.26,112.92 631.77,114.70 629.26,116.48 631.77,118.25 629.26,120.03 631.77,121.81 629.26,123.58 631.77,125.36 629.26,127.13 631.77,128.91 629.26,130.69 631.77,132.46 629.26,134.24 631.77,136.02 629.26,137.79 631.77,139.57 629.26,141.34" fill="none" stroke="#F7931E" stroke-width="0.4"/>
<rect x="627.78" y="141.94" width="5.48" height="2.22" fill="#EF4123" rx="0" />
<rect x="623.78" y="91.46" width="13.03" height="13.62" fill="#EF4123" rx="0" />
<rect x="623.78" y="91.46" width="5.62" height="6.07" fill="#A8A09F" rx="0" />
<line x1="602.76" y1="98.72" x2="602.76" y2="110.56" stroke="#6b605f" stroke-width="0.5"/>
<line x1="602.76" y1="110.26" x2="598.77" y2="114.85" stroke="#6b605f" stroke-width="0.5"/>
<line x1="602.76" y1="110.26" x2="606.61" y2="114.85" stroke="#6b605f" stroke-width="0.5"/>
<rect x="598.32" y="114.55" width="8.58" height="9.03" fill="#EF4123" rx="0" />
<polygon points="542.56,80.08 544.34,80.08 545.23,95.95 541.68,95.95" fill="#B5B5B5" />
<polygon points="525.96,98.17 543.45,96.69 560.80,98.17 560.06,99.65 543.45,100.39 526.70,99.65" fill="#BDBDBD" />
<polygon points="505.95,105.29 533.37,103.80 543.45,103.80 543.45,110.77 533.37,111.51 506.69,107.06" fill="#CFCFCF" />
<polygon points="580.82,105.29 553.39,103.80 543.45,103.80 543.45,110.77 553.39,111.51 580.07,107.06" fill="#A3A3A3" />
<clipPath id="fl"><rect x="523.45" y="87.06" width="20" height="40"/></clipPath>
<clipPath id="fr"><rect x="543.45" y="87.06" width="20" height="40"/></clipPath>
<ellipse cx="543.45" cy="107.06" rx="10.67" ry="12.75" fill="#C9C9C9" clip-path="url(#fl)"/>
<ellipse cx="543.45" cy="107.06" rx="10.67" ry="12.75" fill="#9C9C9C" clip-path="url(#fr)"/>
<polygon points="536.04,100.84 539.30,100.84 538.41,104.99 534.26,104.99" fill="#1a1a1a" />
<polygon points="540.19,100.84 546.72,100.84 547.01,104.99 539.90,104.99" fill="#1a1a1a" />
<polygon points="547.61,100.84 550.87,100.84 552.65,104.99 548.50,104.99" fill="#1a1a1a" />
<rect x="535.15" y="114.77" width="3.85" height="6.23" fill="#3a3a3a" rx="1" />
<rect x="547.61" y="114.77" width="3.85" height="6.23" fill="#3a3a3a" rx="1" />
<circle cx="523.14" cy="110.77" r="3.56" fill="#4a4a4a"/>
<circle cx="523.14" cy="110.77" r="1.93" fill="#333"/>
<circle cx="563.32" cy="110.77" r="3.56" fill="#4a4a4a"/>
<circle cx="563.32" cy="110.77" r="1.93" fill="#333"/>
<circle cx="510.39" cy="108.55" r="1.63" fill="#444"/>
<circle cx="576.07" cy="108.55" r="1.63" fill="#444"/>
<rect x="520.33" y="104.99" width="4.15" height="2.08" fill="#E8202A" rx="0" />
<rect x="562.13" y="104.99" width="4.15" height="2.08" fill="#E8202A" rx="0" />
<rect x="502.98" y="114.92" width="11.42" height="10.23" fill="#0a0a0a" rx="0" />
<rect x="504.17" y="117.74" width="9.04" height="1.78" fill="#6f6663" rx="0" />
<rect x="494.38" y="125.60" width="14.53" height="11.42" fill="#E3E3E3" rx="0" />
<rect x="508.91" y="125.60" width="14.08" height="11.42" fill="#C2C2C2" rx="0" />
<rect x="495.57" y="128.12" width="11.86" height="2.97" fill="#0a0a0a" rx="0" />
<rect x="510.10" y="128.12" width="11.86" height="2.97" fill="#0a0a0a" rx="0" />
<polygon points="487.12,139.68 508.91,134.49 508.91,157.47 489.19,157.47" fill="#A9A09E" />
<polygon points="508.91,134.49 529.67,138.94 528.63,157.47 508.91,157.47" fill="#7B7170" />
<polygon points="546.72,132.56 548.50,132.56 557.84,144.13 552.65,144.13" fill="#C4C4C4" />
<polygon points="547.01,158.66 548.79,158.66 558.28,147.09 552.65,147.09" fill="#A8A8A8" />
<line x1="547.01" y1="132.86" x2="553.83" y2="143.83" stroke="#D6303A" stroke-width="0.7"/>
<line x1="547.31" y1="158.36" x2="554.13" y2="147.69" stroke="#D6303A" stroke-width="0.7"/>
<polygon points="538.12,141.16 539.30,141.16 541.53,144.87 541.53,146.65 539.30,150.06 538.12,150.06 539.30,145.76" fill="#CFCFCF" />
<rect x="538.12" y="144.13" width="30.10" height="3.26" rx="1.63" fill="#E4E4E4"/>
<rect x="539.12" y="145.76" width="28.10" height="0.82" rx="0.8" fill="#B0B0B0"/>
<circle cx="566.73" cy="145.76" r="1.19" fill="#444"/>
<circle cx="548.50" cy="139.38" r="0.89" fill="#777"/>
<circle cx="548.50" cy="151.25" r="0.89" fill="#777"/>
<polygon points="766.33,111.42 781.50,120.32 781.50,134.55 777.95,132.77 777.95,122.69 766.33,115.57" fill="#3B1B5C" />
<polygon points="781.50,120.32 807.95,104.31 807.95,122.10 781.50,136.68" fill="#93318E" />
<polygon points="766.33,111.42 792.77,95.18 807.95,104.31 781.50,120.32" fill="#AF62A5" />
<ellipse cx="800.48" cy="125.30" rx="4.51" ry="6.17" fill="#4d4d4d" transform="rotate(22 800.48 125.30)"/>
<ellipse cx="800.98" cy="125.10" rx="2.13" ry="3.20" fill="#8a8a8a" transform="rotate(22 800.48 125.30)"/>
<ellipse cx="789.80" cy="132.41" rx="4.51" ry="6.17" fill="#4d4d4d" transform="rotate(22 789.80 132.41)"/>
<ellipse cx="790.30" cy="132.21" rx="2.13" ry="3.20" fill="#8a8a8a" transform="rotate(22 789.80 132.41)"/>
<polygon points="750.91,120.32 762.53,113.20 778.18,122.10 767.04,128.86" fill="#F7B19B" />
<polygon points="750.91,120.32 767.04,128.86 767.04,146.64 750.91,138.11" fill="#EE4423" />
<polygon points="767.04,128.86 778.18,122.10 778.18,139.29 767.04,146.64" fill="#F3764F" />
<polygon points="752.21,122.45 764.90,129.21 764.90,136.33 752.21,129.80" fill="#8ED3C7" />
<polygon points="768.22,129.57 774.39,125.89 774.39,133.36 768.22,136.68" fill="#8ED3C7" />
<polygon points="754.23,135.73 763.72,140.71 763.72,142.37 754.23,137.39" fill="#4a3a3a" />
<polygon points="751.86,133.95 753.99,135.02 753.99,136.44 751.86,135.38" fill="#FBB03B" />
<polygon points="763.24,140.00 765.14,140.95 765.14,142.37 763.24,141.43" fill="#FBB03B" />
<ellipse cx="779.13" cy="139.29" rx="4.51" ry="6.17" fill="#4d4d4d" transform="rotate(22 779.13 139.29)"/>
<ellipse cx="779.63" cy="139.09" rx="2.13" ry="3.20" fill="#8a8a8a" transform="rotate(22 779.13 139.29)"/>
<polygon points="824.07,115.33 866.33,138.67 866.33,146.27 824.07,122.67" fill="#15917F" />
<path d="M824.07,116.00 L824.07,110.00 C826.33,96.67 839.00,82.00 850.33,82.67 L893.00,106.00 C879.00,108.67 866.33,126.00 865.93,139.33 Z" fill="#2DA79B"/>
<path d="M865.67,146.27 L865.67,138.67 C866.33,126.00 879.00,108.00 893.00,106.00 C897.67,108.00 900.60,114.00 900.60,125.73 Z" fill="#93D1C4"/>
<polygon points="877.93,132.00 889.93,125.47 889.93,131.60 877.93,138.27" fill="#4a4a4a" />
<polygon points="884.33,128.67 889.93,125.47 889.93,131.60" fill="#6e6e6e" />
<polygon points="878.47,127.07 880.87,125.73 880.87,128.40 878.47,129.73" fill="#2DA79B" />
<polygon points="882.33,124.93 884.73,123.60 884.73,126.27 882.33,127.60" fill="#2DA79B" />
<polygon points="886.20,122.80 888.60,121.47 888.60,124.13 886.20,125.47" fill="#2DA79B" />
<polygon points="893.00,114.67 895.93,113.07 895.93,116.80 893.00,118.40" fill="#FFFFFF" />
<polygon points="893.00,120.00 895.93,118.40 895.93,122.13 893.00,123.73" fill="#FFFFFF" />
<polygon points="893.00,125.33 895.93,123.73 895.93,127.47 893.00,129.07" fill="#FFFFFF" />
<polygon points="932.92,89.43 949.20,75.10 949.20,143.99 932.92,143.99" fill="#B3B3B3" />
<polygon points="949.20,75.10 965.16,89.43 965.16,143.99 949.20,143.99" fill="#CDCDCD" />
<circle cx="949.20" cy="85.52" r="3.42" fill="#FBB03B"/>
<path d="M949.20,82.10 A3.42,3.42 0 0 0 949.20,88.94 Z" fill="#E5A43C"/>
<rect x="936.66" y="93.83" width="4.89" height="4.89" fill="#0B2233" rx="0" />
<rect x="946.76" y="93.83" width="2.44" height="4.89" fill="#E5A43C" rx="0" />
<rect x="949.20" y="93.83" width="2.44" height="4.89" fill="#FBB03B" rx="0" />
<rect x="957.02" y="93.83" width="4.89" height="4.89" fill="#FBB03B" rx="0" />
<rect x="936.66" y="103.27" width="4.89" height="4.89" fill="#E5A43C" rx="0" />
<rect x="946.76" y="103.27" width="2.44" height="4.89" fill="#E5A43C" rx="0" />
<rect x="949.20" y="103.27" width="2.44" height="4.89" fill="#FBB03B" rx="0" />
<rect x="957.02" y="103.27" width="4.89" height="4.89" fill="#0B2233" rx="0" />
<rect x="936.66" y="113.05" width="4.89" height="4.89" fill="#E5A43C" rx="0" />
<rect x="946.76" y="113.05" width="4.89" height="4.89" fill="#0B2233" rx="0" />
<rect x="957.02" y="113.05" width="4.89" height="4.89" fill="#FBB03B" rx="0" />
<rect x="936.66" y="122.82" width="4.89" height="4.89" fill="#E5A43C" rx="0" />
<rect x="946.76" y="122.82" width="2.44" height="4.89" fill="#E5A43C" rx="0" />
<rect x="949.20" y="122.82" width="2.44" height="4.89" fill="#FBB03B" rx="0" />
<rect x="957.02" y="122.82" width="4.89" height="4.89" fill="#0B2233" rx="0" />
<rect x="944.80" y="133.73" width="8.96" height="10.26" fill="#0B2233" rx="0" />
<rect x="967.12" y="100.02" width="14.66" height="43.97" fill="#6DB3AB" rx="0" />
<rect x="981.78" y="100.02" width="14.66" height="43.97" fill="#82CFC7" rx="0" />
<rect x="965.98" y="98.06" width="15.80" height="2.44" fill="#D9481F" rx="0" />
<rect x="981.78" y="98.06" width="15.80" height="2.44" fill="#EE5A2A" rx="0" />
<rect x="970.37" y="105.07" width="5.54" height="8.47" fill="#0B2233" rx="0" />
<rect x="979.01" y="105.07" width="5.54" height="8.47" fill="#00687A" rx="0" />
<rect x="987.64" y="105.07" width="5.54" height="8.47" fill="#0B2233" rx="0" />
<rect x="970.37" y="119.40" width="5.54" height="8.47" fill="#00687A" rx="0" />
<rect x="979.01" y="119.40" width="5.54" height="8.47" fill="#0B2233" rx="0" />
<rect x="987.64" y="119.40" width="5.54" height="8.47" fill="#0B2233" rx="0" />
<rect x="979.01" y="135.85" width="5.70" height="8.14" fill="#0B2233" rx="0" />
</svg>
</body></html>
